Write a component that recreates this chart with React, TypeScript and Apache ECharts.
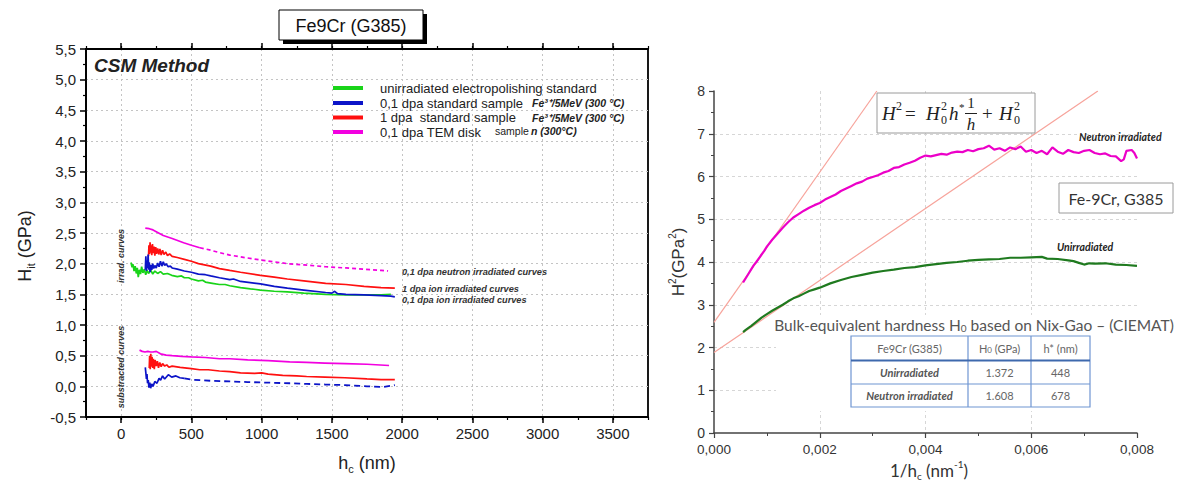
import React, { useEffect, useRef } from 'react';
import * as echarts from 'echarts';

// ---------------- Left panel: H_it (GPa) vs h_c (nm) ----------------
const hcMajorTicks = [0, 500, 1000, 1500, 2000, 2500, 3000, 3500];

const greenIrr = [
  [70, 2.02], [78, 1.94], [85, 1.99], [92, 1.88], [100, 1.96], [108, 1.84], [115, 1.93], [122, 1.78],
  [130, 1.9], [138, 1.83], [146, 1.95], [155, 1.85], [165, 1.91], [175, 1.82], [185, 1.89], [195, 1.84],
  [210, 1.9], [225, 1.83], [240, 1.88], [260, 1.84], [280, 1.87], [300, 1.83], [330, 1.84], [360, 1.81],
  [400, 1.79], [430, 1.8], [450, 1.77], [480, 1.77], [500, 1.75], [550, 1.72], [580, 1.73], [600, 1.7],
  [650, 1.68], [700, 1.66], [740, 1.66], [773, 1.64], [850, 1.61], [920, 1.59], [992, 1.57], [1090, 1.55],
  [1183, 1.54], [1300, 1.52], [1456, 1.5], [1600, 1.49], [1729, 1.49], [1850, 1.49], [1920, 1.5],
];
const blueIrr = [
  [172, 1.9], [176, 2.12], [180, 1.88], [184, 2.05], [188, 1.93], [192, 2.15], [196, 1.9], [200, 2.02],
  [206, 1.86], [212, 1.98], [218, 1.9], [225, 2.0], [232, 1.92], [240, 1.97], [250, 1.93], [260, 2.01],
  [270, 1.95], [280, 2.04], [290, 1.96], [300, 2.03], [310, 1.97], [320, 2.0], [335, 1.95], [350, 1.96],
  [363, 1.93], [400, 1.91], [450, 1.88], [500, 1.86], [550, 1.83], [600, 1.82], [637, 1.8], [700, 1.77],
  [773, 1.74], [800, 1.75], [850, 1.71], [992, 1.67], [1090, 1.63], [1183, 1.6], [1300, 1.57], [1456, 1.53],
  [1500, 1.52], [1520, 1.55], [1540, 1.51], [1600, 1.5], [1729, 1.49], [1850, 1.48], [1920, 1.47], [1948, 1.46],
];
const redIrr = [
  [195, 2.12], [198, 2.3], [202, 2.16], [206, 2.35], [210, 2.18], [214, 2.3], [218, 2.14], [223, 2.32],
  [228, 2.17], [234, 2.28], [240, 2.13], [246, 2.27], [252, 2.16], [260, 2.25], [268, 2.15], [276, 2.24],
  [285, 2.14], [295, 2.22], [305, 2.15], [318, 2.19], [330, 2.13], [345, 2.16], [363, 2.12], [400, 2.1],
  [450, 2.07], [500, 2.04], [550, 2.0], [637, 1.96], [700, 1.92], [773, 1.89], [850, 1.86], [992, 1.81],
  [1090, 1.78], [1183, 1.75], [1300, 1.72], [1456, 1.68], [1600, 1.66], [1729, 1.63], [1850, 1.61], [1948, 1.6],
];
const magentaIrr = [
  [172, 2.58], [200, 2.57], [227, 2.55], [260, 2.51], [300, 2.46], [363, 2.41], [445, 2.34], [500, 2.3],
  [560, 2.26], [637, 2.22], [700, 2.18], [773, 2.14], [850, 2.11], [992, 2.06], [1090, 2.03], [1183, 2.0],
  [1300, 1.98], [1456, 1.95], [1600, 1.93], [1729, 1.91], [1850, 1.89], [1900, 1.88],
];
const magentaSub = [
  [131, 0.59], [150, 0.57], [170, 0.56], [190, 0.57], [210, 0.56], [227, 0.56], [250, 0.57], [280, 0.53],
  [320, 0.51], [363, 0.5], [430, 0.49], [500, 0.48], [600, 0.47], [700, 0.45], [773, 0.45], [900, 0.43],
  [1046, 0.42], [1200, 0.4], [1320, 0.39], [1450, 0.38], [1593, 0.37], [1750, 0.36], [1907, 0.34],
];
const redSub = [
  [200, 0.3], [203, 0.5], [207, 0.28], [211, 0.53], [215, 0.32], [220, 0.48], [225, 0.3], [230, 0.45],
  [236, 0.28], [242, 0.43], [250, 0.33], [258, 0.41], [266, 0.3], [275, 0.39], [285, 0.32], [295, 0.37],
  [310, 0.33], [325, 0.35], [340, 0.31], [363, 0.33], [420, 0.31], [500, 0.29], [560, 0.27], [620, 0.27],
  [700, 0.25], [773, 0.24], [850, 0.22], [950, 0.21], [1000, 0.22], [1046, 0.2], [1150, 0.18], [1250, 0.17],
  [1320, 0.16], [1450, 0.15], [1593, 0.14], [1750, 0.12], [1850, 0.11], [1948, 0.11],
];
const blueSub = [
  [172, 0.31], [176, 0.22], [180, 0.12], [184, 0.2], [188, 0.05], [193, 0.1], [198, -0.02], [204, 0.06],
  [210, -0.03], [218, 0.04], [227, 0.0], [240, 0.08], [255, 0.05], [270, 0.13], [281, 0.1], [295, 0.17],
  [310, 0.12], [336, 0.19], [360, 0.15], [390, 0.17], [418, 0.14], [450, 0.13], [500, 0.11], [560, 0.1],
  [640, 0.09], [773, 0.08], [900, 0.07], [1046, 0.06], [1200, 0.05], [1320, 0.04], [1450, 0.03],
  [1593, 0.02], [1750, 0.0], [1866, -0.01], [1948, 0.02],
];

const legendNames = [
  'unirradiated electropolishing standard',
  '0,1 dpa standard sample',
  '1 dpa  standard sample',
  '0,1 dpa TEM disk',
];
const legendColors = ['#19d419', '#0c14c8', '#ff1010', '#f200e0'];
const curveNotes = ['0,1 dpa neutron irradiated curves', '1 dpa ion irradiated curves', '0,1 dpa ion irradiated curves'];

// ---------------- Right panel: H^2 (GPa^2) vs 1/h_c (nm^-1) ----------------
const neutronH2 = [
  [0.00055, 3.52], [0.0006, 3.62], [0.00065, 3.72], [0.0007, 3.82], [0.00075, 3.92], [0.0008, 4.0],
  [0.00088, 4.14], [0.00095, 4.26], [0.001, 4.36], [0.0011, 4.52], [0.0012, 4.66], [0.0013, 4.8],
  [0.0014, 4.93], [0.0015, 5.04], [0.0016, 5.12], [0.0017, 5.2], [0.0018, 5.27], [0.0019, 5.33],
  [0.002, 5.38], [0.0021, 5.46], [0.0022, 5.52], [0.0023, 5.58], [0.0024, 5.66], [0.0025, 5.72],
  [0.0026, 5.78], [0.0027, 5.84], [0.0028, 5.88], [0.0029, 5.95], [0.003, 5.99], [0.0031, 6.03],
  [0.0032, 6.09], [0.0033, 6.13], [0.0034, 6.2], [0.0035, 6.22], [0.0036, 6.28], [0.0037, 6.32],
  [0.0038, 6.37], [0.0039, 6.44], [0.004, 6.49], [0.0041, 6.47], [0.0042, 6.5], [0.0043, 6.53],
  [0.0044, 6.51], [0.0045, 6.56], [0.0046, 6.58], [0.0047, 6.57], [0.0048, 6.62], [0.0049, 6.59],
  [0.005, 6.64], [0.0051, 6.66], [0.0052, 6.72], [0.0053, 6.63], [0.0054, 6.66], [0.0055, 6.6],
  [0.0056, 6.68], [0.0057, 6.64], [0.0058, 6.7], [0.0059, 6.58], [0.006, 6.62], [0.0061, 6.55],
  [0.0062, 6.6], [0.0063, 6.52], [0.0064, 6.68], [0.0065, 6.58], [0.0066, 6.53], [0.0067, 6.62],
  [0.0068, 6.57], [0.0069, 6.55], [0.007, 6.6], [0.0071, 6.62], [0.0072, 6.55], [0.0073, 6.52],
  [0.0074, 6.54], [0.0075, 6.48], [0.0076, 6.47], [0.0077, 6.36], [0.00775, 6.4], [0.0078, 6.6],
  [0.0079, 6.62], [0.00795, 6.55], [0.008, 6.42],
];
const unirrH2 = [
  [0.00055, 2.36], [0.0006, 2.41], [0.0007, 2.5], [0.0008, 2.6], [0.0009, 2.7], [0.001, 2.78],
  [0.0011, 2.86], [0.0012, 2.93], [0.0013, 3.0], [0.0014, 3.08], [0.0015, 3.15], [0.0016, 3.2],
  [0.0017, 3.26], [0.0018, 3.32], [0.0019, 3.36], [0.002, 3.4], [0.0022, 3.5], [0.0024, 3.58],
  [0.0026, 3.65], [0.0028, 3.7], [0.003, 3.75], [0.0032, 3.79], [0.0034, 3.82], [0.0036, 3.86],
  [0.0038, 3.88], [0.004, 3.92], [0.0042, 3.95], [0.0044, 3.98], [0.0046, 4.0], [0.0048, 4.03],
  [0.005, 4.05], [0.0052, 4.06], [0.0054, 4.07], [0.0056, 4.1], [0.0058, 4.1], [0.006, 4.11],
  [0.0062, 4.12], [0.0063, 4.08], [0.0065, 4.07], [0.0067, 4.04], [0.0068, 4.02], [0.0069, 3.98],
  [0.007, 3.94], [0.0071, 3.97], [0.0072, 3.96], [0.0074, 3.97], [0.0076, 3.94], [0.0078, 3.93], [0.008, 3.91],
];
const fitNeutron = [[0, 2.586], [0.00308, 8]];
const fitUnirr = [[0, 1.882], [0.00726, 8]];

const tableHeader = ['Fe9Cr (G385)', 'H{s|0} (GPa)', 'h* (nm)'];
const tableRows = [
  ['Unirradiated', '1.372', '448'],
  ['Neutron irradiated', '1.608', '678'],
];

const ARIAL = '"Liberation Sans", Arial, sans-serif';
const CAL = 'Lato, "Open Sans", sans-serif';
const SERIF = '"Liberation Serif", "DejaVu Serif", serif';

function txt(x: number, y: number, text: string, o: any = {}, extra: any = {}) {
  return {
    type: 'text', x, y, z: 100, silent: true, ...extra,
    style: { text, fill: '#222', fontFamily: ARIAL, fontSize: 12, align: 'left', verticalAlign: 'middle', ...o },
  };
}

export default function App() {
  const ref = useRef<HTMLDivElement>(null);
  useEffect(() => {
    if (!ref.current) return;
    const chart = echarts.init(ref.current, undefined, { renderer: 'svg' });

    const lseries = (data: number[][], color: string, extra: any = {}) => ({
      type: 'line', xAxisIndex: 0, yAxisIndex: 0, data, symbol: 'none', showSymbol: false, silent: true, z: 3,
      lineStyle: { color, width: 1.7, ...extra },
    });
    const rseries = (data: number[][], color: string, width: number, z = 3) => ({
      type: 'line', xAxisIndex: 4, yAxisIndex: 1, data, symbol: 'none', showSymbol: false, silent: true, z,
      lineStyle: { color, width },
    });

    const blackLine = { color: '#000', width: 1.8 };
    const leftMinor = (position: string) => ({
      gridIndex: 0, type: 'value', position, min: -250, max: 3750, interval: 250,
      axisLine: { show: false, onZero: false }, axisTick: { length: 3, lineStyle: { color: '#000', width: 1.2 } },
      axisLabel: { show: false }, splitLine: { show: false },
    });

    const graphics: any[] = [];
    // title box with shadow
    graphics.push({ type: 'rect', z: 100, silent: true, shape: { x: 283, y: 14, width: 144, height: 30 }, style: { fill: '#000' } });
    graphics.push({ type: 'rect', z: 101, silent: true, shape: { x: 279, y: 10, width: 144, height: 30 }, style: { fill: '#fff', stroke: '#000', lineWidth: 1 } });
    graphics.push(txt(351, 25.5, 'Fe9Cr (G385)', { fontSize: 18, align: 'center', fill: '#111' }, { z: 102 }));
    // CSM Method
    graphics.push(txt(94, 65, 'CSM Method', { fontSize: 19, fontWeight: 'bold', fontStyle: 'italic', fill: '#222' }));
    // legend
    const rowsY = [88, 103, 117.5, 132];
    legendNames.forEach((n, i) => {
      graphics.push({ type: 'line', z: 100, silent: true, shape: { x1: 333, y1: rowsY[i], x2: 363, y2: rowsY[i] }, style: { stroke: legendColors[i], lineWidth: 4 } });
      graphics.push(txt(380, rowsY[i], n, { fontSize: 13, fill: '#222' }));
    });
    const smallBI = { fontSize: 10.5, fontWeight: 'bold', fontStyle: 'italic', fill: '#222' };
    graphics.push(txt(532, rowsY[1], 'Fe³⁺/5MeV (300 °C)', smallBI));
    graphics.push(txt(532, rowsY[2], 'Fe³⁺/5MeV (300 °C)', smallBI));
    graphics.push(txt(495, rowsY[3] - 1, 'sample', { fontSize: 10.5, fill: '#222' }));
    graphics.push(txt(531, rowsY[3] - 1, 'n (300°C)', smallBI));
    // curve notes
    const noteStyle = { fontSize: 9.2, fontWeight: 'bold', fontStyle: 'italic', fill: '#333' };
    graphics.push(txt(402, 272, curveNotes[0], noteStyle));
    graphics.push(txt(402, 289, curveNotes[1], noteStyle));
    graphics.push(txt(402, 299.5, curveNotes[2], noteStyle));
    // vertical labels
    graphics.push(txt(121, 256, 'irrad. curves', { ...noteStyle, fontSize: 9, align: 'center' }, { rotation: Math.PI / 2 }));
    graphics.push(txt(121, 367, 'substracted curves', { ...noteStyle, fontSize: 9, align: 'center' }, { rotation: Math.PI / 2 }));
    // left axis titles
    graphics.push(txt(25, 246, '{a|H}{b|it}{a| (GPa)}', {
      align: 'center', rich: { a: { fontSize: 18, lineHeight: 22, fontFamily: ARIAL, fill: '#222' }, b: { fontSize: 11, lineHeight: 11, verticalAlign: 'bottom', fontFamily: ARIAL, fill: '#222' } },
    }, { rotation: Math.PI / 2 }));
    graphics.push(txt(367, 463, '{a|h}{b|c}{a| (nm)}', {
      align: 'center', rich: { a: { fontSize: 18, lineHeight: 22, fontFamily: ARIAL, fill: '#222' }, b: { fontSize: 11, lineHeight: 11, verticalAlign: 'bottom', fontFamily: ARIAL, fill: '#222' } },
    }));

    // right panel titles
    graphics.push(txt(678, 262, '{a|H}{b|2}{a|(GPa}{b|2}{a|)}', {
      align: 'center', rich: { a: { fontSize: 17, lineHeight: 22, fontFamily: ARIAL, fill: '#333' }, b: { fontSize: 10, lineHeight: 10, verticalAlign: 'top', fontFamily: ARIAL, fill: '#333' } },
    }, { rotation: Math.PI / 2 }));
    graphics.push(txt(929, 470, '{a|1/h}{b|c}{a| (nm}{p|-1}{a|)}', {
      align: 'center', rich: {
        a: { fontSize: 17, lineHeight: 22, fontFamily: CAL, fill: '#333' },
        b: { fontSize: 10, lineHeight: 10, verticalAlign: 'bottom', fontFamily: CAL, fill: '#333' },
        p: { fontSize: 10, lineHeight: 10, verticalAlign: 'top', fontFamily: CAL, fill: '#333' },
      },
    }));
    // formula box
    graphics.push({ type: 'rect', z: 99, silent: true, shape: { x: 877, y: 93, width: 158, height: 40 }, style: { fill: '#fff', stroke: '#9a9a9a', lineWidth: 1 } });
    const fm = { fontFamily: SERIF, fontStyle: 'italic', fontSize: 19, fill: '#222' };
    const fs = { fontFamily: SERIF, fontSize: 12, fill: '#222' };
    graphics.push(txt(882, 113, 'H', fm));
    graphics.push(txt(896, 106, '2', fs));
    graphics.push(txt(905, 113, '=', { ...fm, fontStyle: 'normal' }));
    graphics.push(txt(926, 113, 'H', fm));
    graphics.push(txt(941, 106, '2', fs));
    graphics.push(txt(941, 120, '0', fs));
    graphics.push(txt(949, 113, 'h', fm));
    graphics.push(txt(959, 107, '*', { ...fs, fontSize: 11 }));
    graphics.push(txt(971, 103, '1', { ...fs, fontSize: 15, align: 'center' }));
    graphics.push({ type: 'line', z: 100, silent: true, shape: { x1: 965, y1: 113.5, x2: 977, y2: 113.5 }, style: { stroke: '#222', lineWidth: 1 } });
    graphics.push(txt(971, 124, 'h', { ...fm, fontSize: 17, align: 'center' }));
    graphics.push(txt(982, 113, '+', { ...fm, fontStyle: 'normal' }));
    graphics.push(txt(999, 113, 'H', fm));
    graphics.push(txt(1014, 106, '2', fs));
    graphics.push(txt(1014, 120, '0', fs));
    // sample box
    graphics.push({ type: 'rect', z: 99, silent: true, shape: { x: 1059, y: 183, width: 114, height: 30 }, style: { fill: '#fff', stroke: '#9a9a9a', lineWidth: 1 } });
    graphics.push(txt(1116, 198, 'Fe-9Cr, G385', { fontFamily: CAL, fontSize: 16, align: 'center', fill: '#333' }));
    // curve labels
    graphics.push(txt(1079, 137, 'Neutron irradiated', { fontFamily: CAL, fontSize: 10.5, fontWeight: 'bold', fontStyle: 'italic', fill: '#222' }));
    graphics.push(txt(1057, 247, 'Unirradiated', { fontFamily: CAL, fontSize: 10.5, fontWeight: 'bold', fontStyle: 'italic', fill: '#222' }));
    // table panel (white backdrop)
    graphics.push({ type: 'rect', z: 98, silent: true, shape: { x: 776, y: 315, width: 398, height: 96 }, style: { fill: '#fff' } });
    graphics.push(txt(974, 325, 'Bulk-equivalent hardness H{s|0} based on Nix-Gao – (CIEMAT)', {
      fontFamily: CAL, fontSize: 15.5, align: 'center', fill: '#555',
      rich: { s: { fontFamily: CAL, fontSize: 10, fill: '#555', verticalAlign: 'bottom', lineHeight: 10 } },
    }));
    const tx = [851, 968, 1031, 1090];
    const ty = [336, 360.5, 384, 407];
    graphics.push({ type: 'rect', z: 100, silent: true, shape: { x: tx[0], y: ty[0], width: tx[3] - tx[0], height: ty[3] - ty[0] }, style: { fill: '#fff', stroke: '#6f95d2', lineWidth: 1.2 } });
    graphics.push({ type: 'line', z: 101, silent: true, shape: { x1: tx[1], y1: ty[0], x2: tx[1], y2: ty[3] }, style: { stroke: '#6f95d2', lineWidth: 1.2 } });
    graphics.push({ type: 'line', z: 101, silent: true, shape: { x1: tx[2], y1: ty[0], x2: tx[2], y2: ty[3] }, style: { stroke: '#6f95d2', lineWidth: 1.2 } });
    graphics.push({ type: 'line', z: 101, silent: true, shape: { x1: tx[0], y1: ty[1], x2: tx[3], y2: ty[1] }, style: { stroke: '#3e69ad', lineWidth: 2 } });
    graphics.push({ type: 'line', z: 101, silent: true, shape: { x1: tx[0], y1: ty[2], x2: tx[3], y2: ty[2] }, style: { stroke: '#6f95d2', lineWidth: 1.2 } });
    const cellStyle = { fontFamily: CAL, fontSize: 11, fill: '#666', align: 'center', rich: { s: { fontFamily: CAL, fontSize: 8, fill: '#666', verticalAlign: 'bottom', lineHeight: 8 } } };
    tableHeader.forEach((h, j) => {
      graphics.push(txt((tx[j] + tx[j + 1]) / 2, (ty[0] + ty[1]) / 2, h, cellStyle, { z: 102 }));
    });
    tableRows.forEach((r, i) => {
      r.forEach((c, j) => {
        const st = j === 0 ? { ...cellStyle, fontWeight: 'bold', fontStyle: 'italic', fill: '#555' } : cellStyle;
        graphics.push(txt((tx[j] + tx[j + 1]) / 2, (ty[i + 1] + ty[i + 2]) / 2, c, st, { z: 102 }));
      });
    });

    const option: any = {
      animation: false,
      backgroundColor: '#fff',
      grid: [
        { left: 86, top: 49, width: 562, height: 368, show: true, borderColor: '#000', borderWidth: 1.8, backgroundColor: 'transparent' },
        { left: 714, top: 91, width: 423, height: 342 },
      ],
      xAxis: [
        {
          gridIndex: 0, type: 'value', position: 'bottom', min: -250, max: 3750,
          axisLine: { onZero: false, lineStyle: blackLine },
          axisTick: { customValues: hcMajorTicks, length: 6, lineStyle: { color: '#000', width: 1.5 } },
          axisLabel: { customValues: hcMajorTicks, color: '#222', fontSize: 15, fontFamily: ARIAL, margin: 9, formatter: (v: number) => String(v) },
          splitLine: { show: true, lineStyle: { color: '#c4c4c4', type: [2, 3], width: 1 } },
        },
        leftMinor('bottom'),
        {
          gridIndex: 0, type: 'value', position: 'top', min: -250, max: 3750,
          axisLine: { onZero: false, lineStyle: blackLine },
          axisTick: { customValues: hcMajorTicks, length: 6, lineStyle: { color: '#000', width: 1.5 } },
          axisLabel: { show: false }, splitLine: { show: false },
        },
        leftMinor('top'),
        {
          gridIndex: 1, type: 'value', position: 'bottom', min: 0, max: 0.008, interval: 0.002,
          axisLine: { onZero: false, lineStyle: { color: '#444', width: 1.5 } },
          axisTick: { length: 5, lineStyle: { color: '#444', width: 1.2 } },
          minorTick: { show: true, splitNumber: 2, length: 3, lineStyle: { color: '#444', width: 1 } },
          axisLabel: { color: '#333', fontSize: 13.5, fontFamily: ARIAL, margin: 9, formatter: (v: number) => v.toFixed(3).replace('.', ',') },
          splitLine: { show: true, showMinLine: false, showMaxLine: false, lineStyle: { color: '#d6d6d6', type: [3, 3], width: 1 } },
        },
      ],
      yAxis: [
        {
          gridIndex: 0, type: 'value', min: -0.5, max: 5.5, interval: 0.5,
          axisLine: { onZero: false, lineStyle: blackLine },
          axisTick: { length: 6, lineStyle: { color: '#000', width: 1.5 } },
          minorTick: { show: true, splitNumber: 2, length: 3, lineStyle: { color: '#000', width: 1.2 } },
          axisLabel: { color: '#222', fontSize: 15, fontFamily: ARIAL, margin: 10, formatter: (v: number) => v.toFixed(1).replace('.', ',') },
          splitLine: { show: true, lineStyle: { color: '#c4c4c4', type: [2, 3], width: 1 } },
        },
        {
          gridIndex: 1, type: 'value', min: 0, max: 8, interval: 1,
          axisLine: { onZero: false, lineStyle: { color: '#444', width: 1.5 } },
          axisTick: { length: 5, lineStyle: { color: '#444', width: 1.2 } },
          minorTick: { show: true, splitNumber: 2, length: 3, lineStyle: { color: '#444', width: 1 } },
          axisLabel: { color: '#333', fontSize: 14, fontFamily: ARIAL, margin: 9 },
          splitLine: { show: true, showMinLine: false, showMaxLine: false, lineStyle: { color: '#d6d6d6', type: [3, 3], width: 1 } },
        },
      ],
      series: [
        lseries(greenIrr, '#19d419'),
        lseries(redIrr, '#ff1010'),
        lseries(blueIrr, '#0c14c8'),
        lseries(magentaIrr.filter((p) => p[0] <= 560), '#f200e0', { width: 1.7 }),
        lseries(magentaIrr.filter((p) => p[0] >= 560), '#f200e0', { width: 1.7, type: [4, 3] }),
        lseries(magentaSub, '#f200e0', { width: 1.7 }),
        lseries(redSub, '#ff1010'),
        lseries(blueSub.filter((p) => p[0] <= 450), '#0c14c8'),
        lseries(blueSub.filter((p) => p[0] >= 450), '#0c14c8', { width: 1.8, type: [6, 4] }),
        rseries(fitNeutron, '#f7a39b', 1.2, 2),
        rseries(fitUnirr, '#f7a39b', 1.2, 2),
        rseries(neutronH2, '#ec00c8', 2.2),
        rseries(unirrH2, '#1f7a1f', 2.2),
      ],
      graphic: { elements: graphics },
    };
    chart.setOption(option);
    return () => chart.dispose();
  }, []);
  return <div ref={ref} style={{ position: 'absolute', left: 0, top: 0, width: 1178, height: 483 }} />;
}
